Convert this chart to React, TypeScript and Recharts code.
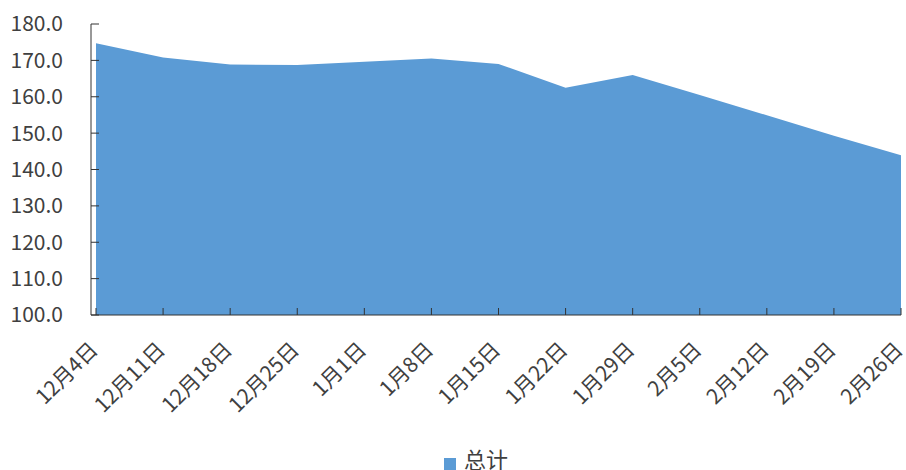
import { AreaChart, Area, XAxis, YAxis, Legend } from "recharts"

const categories = [
    "12月4日", "12月11日", "12月18日", "12月25日", "1月1日", "1月8日", "1月15日",
    "1月22日", "1月29日", "2月5日", "2月12日", "2月19日", "2月26日",
]
const totals = [174.7, 170.8, 168.9, 168.7, 169.6, 170.5, 169.0, 162.5, 166.0, 160.5, 154.9, 149.3, 143.9]
const yTicks = [100, 110, 120, 130, 140, 150, 160, 170, 180]
const seriesName = "总计"

const data = categories.map((c, i) => ({ date: c, total: totals[i] }))

const FONT = '"Noto Sans CJK SC", "Noto Sans", sans-serif'
const TEXT = "#404040"

// rotated date labels, end of text sits just right of the tick
function DateTick(props: any) {
    const { x, y, payload } = props
    const tx = x - 2
    return (
        <text
            x={tx}
            y={y}
            dy="0.35em"
            textAnchor="end"
            fill={TEXT}
            fontSize={21}
            fontFamily={FONT}
            transform={`rotate(-45, ${tx}, ${y})`}
        >
            {payload.value}
        </text>
    )
}

export default function App() {
    return (
        <div style={{ position: "absolute", left: 0, top: 0, background: "#fff" }}>
            <AreaChart
                width={906}
                height={470}
                data={data}
                margin={{ top: 24, right: 5, left: 0, bottom: 0 }}
            >
                <XAxis
                    dataKey="date"
                    padding={{ left: 5, right: 0 }}
                    interval={0}
                    tickSize={-7}
                    tickMargin={38}
                    height={125}
                    stroke="#333"
                    tick={<DateTick />}
                />
                <YAxis
                    domain={[100, 180]}
                    ticks={yTicks}
                    interval={0}
                    width={91}
                    tickSize={-8}
                    tickMargin={36}
                    stroke="#333"
                    tickFormatter={(v: number) => v.toFixed(1)}
                    tick={{ fill: TEXT, fontSize: 21, fontFamily: FONT }}
                />
                <Legend
                    iconType="square"
                    iconSize={12}
                    align="left"
                    wrapperStyle={{ left: 444, bottom: -3, height: 30, lineHeight: "30px" }}
                    formatter={(v: string) => (
                        <span style={{ color: TEXT, fontSize: 22, fontFamily: FONT, paddingLeft: 4, lineHeight: "30px" }}>
                            {v}
                        </span>
                    )}
                />
                <Area
                    type="linear"
                    dataKey="total"
                    name={seriesName}
                    stroke="none"
                    fill="#5B9BD5"
                    fillOpacity={1}
                    isAnimationActive={false}
                />
            </AreaChart>
        </div>
    )
}
